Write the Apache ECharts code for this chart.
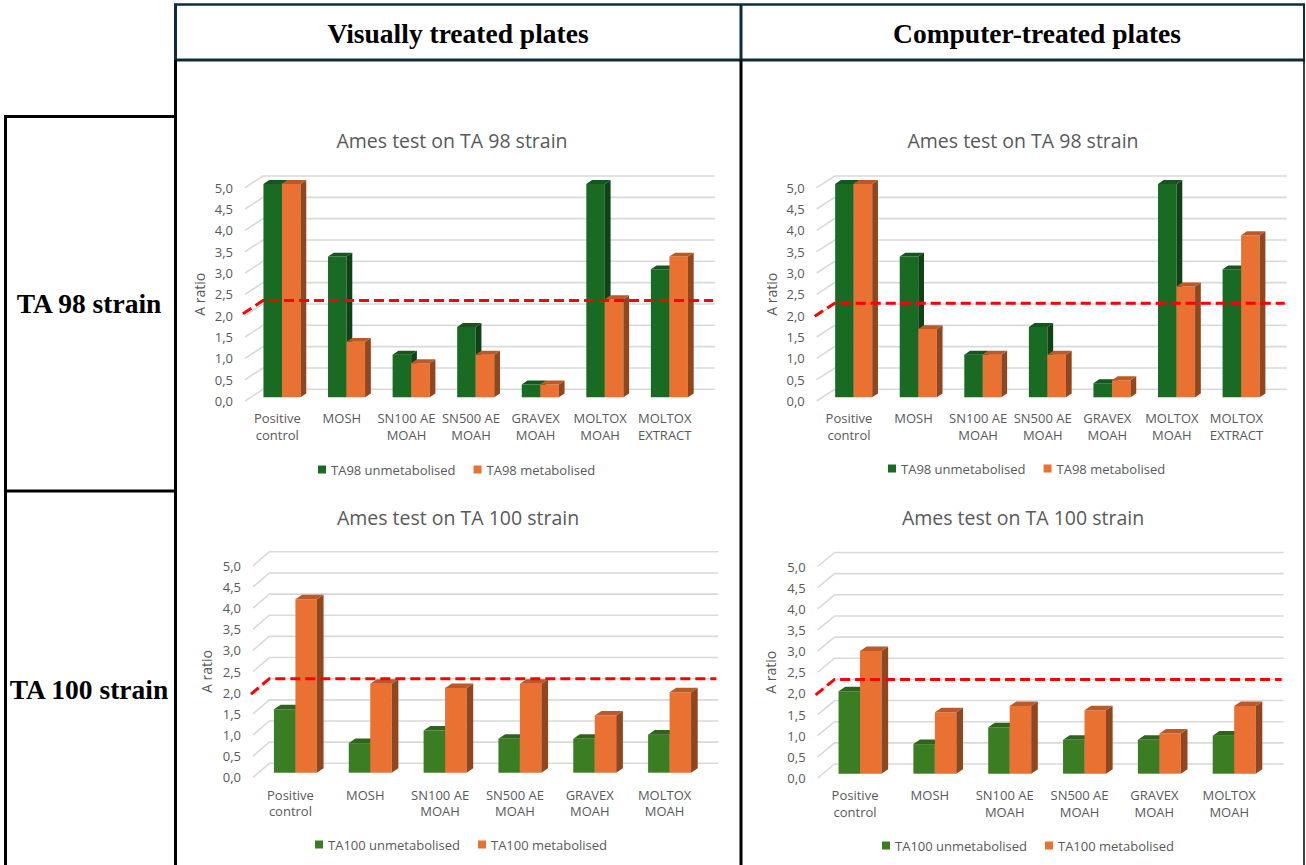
<!DOCTYPE html>
<html>
<head>
<meta charset="utf-8">
<title>Ames test – TA 98 and TA 100 strains</title>
<script src="https://cdn.jsdelivr.net/npm/echarts@6/dist/echarts.min.js"></script>
<style>
  html, body { margin: 0; padding: 0; background: #ffffff; }
  #chart { width: 1306px; height: 865px; }
</style>
</head>
<body>
<div id="chart"></div>
<script>
// ---- data ----
const categoriesTA98 = ['Positive\ncontrol', 'MOSH', 'SN100 AE\nMOAH', 'SN500 AE\nMOAH', 'GRAVEX\nMOAH', 'MOLTOX\nMOAH', 'MOLTOX\nEXTRACT'];
const categoriesTA100 = ['Positive\ncontrol', 'MOSH', 'SN100 AE\nMOAH', 'SN500 AE\nMOAH', 'GRAVEX\nMOAH', 'MOLTOX\nMOAH'];
const yTicks = [0, 0.5, 1.0, 1.5, 2.0, 2.5, 3.0, 3.5, 4.0, 4.5, 5.0];

const visualTA98Unmetabolised = [5.0, 3.3, 1.0, 1.65, 0.3, 5.0, 3.0];
const visualTA98Metabolised = [5.0, 1.3, 0.8, 1.0, 0.3, 2.3, 3.3];
const computerTA98Unmetabolised = [5.0, 3.3, 1.0, 1.65, 0.33, 5.0, 3.0];
const computerTA98Metabolised = [5.0, 1.6, 1.0, 1.0, 0.4, 2.6, 3.8];

const visualTA100Unmetabolised = [1.5, 0.7, 1.0, 0.8, 0.8, 0.9];
const visualTA100Metabolised = [4.1, 2.1, 2.0, 2.1, 1.35, 1.9];
const computerTA100Unmetabolised = [1.95, 0.7, 1.1, 0.8, 0.8, 0.9];
const computerTA100Metabolised = [2.9, 1.45, 1.6, 1.5, 0.95, 1.6];

// red dashed reference level drawn on each panel
const thresholdLevels = [2.08, 2.02, 2.0, 2.0];

// ---- styling ----
const GREEN_98 = '#196B24';
const GREEN_100 = '#3B7D23';
const ORANGE = '#E97132';
const TEXT_GREY = '#595959';
const GRID_GREY = '#d9d9d9';
const NAVY = '#0f2b3c';
const SANS = '"Open Sans", "Noto Sans", sans-serif';
const SERIF = '"Liberation Serif", "DejaVu Serif", serif';

function shade(hex, f) {
  const n = parseInt(hex.slice(1), 16);
  const r = Math.round(((n >> 16) & 255) * f);
  const g = Math.round(((n >> 8) & 255) * f);
  const b = Math.round((n & 255) * f);
  return 'rgb(' + r + ',' + g + ',' + b + ')';
}

// panel layout: grid = front plane of the 3D box, wall = offset of the back wall,
// barShift = offset of the plane the columns stand on
const panels = [
  {
    title: 'Ames test on TA 98 strain', titleX: 452, titleY: 140,
    categories: categoriesTA98,
    series: [
      { name: 'TA98 unmetabolised', data: visualTA98Unmetabolised, color: GREEN_98 },
      { name: 'TA98 metabolised', data: visualTA98Metabolised, color: ORANGE }
    ],
    grid: { left: 245, top: 187.7, width: 452, height: 213.3 },
    wall: [18, -11.7], barShift: [4.7, -3.7], nameGap: 39,
    legend: { left: 313, top: 458 }
  },
  {
    title: 'Ames test on TA 98 strain', titleX: 1023, titleY: 140,
    categories: categoriesTA98,
    series: [
      { name: 'TA98 unmetabolised', data: computerTA98Unmetabolised, color: GREEN_98 },
      { name: 'TA98 metabolised', data: computerTA98Metabolised, color: ORANGE }
    ],
    grid: { left: 816.7, top: 187.7, width: 452, height: 213.3 },
    wall: [18, -11.7], barShift: [4.7, -3.7], nameGap: 38,
    legend: { left: 883, top: 457 }
  },
  {
    title: 'Ames test on TA 100 strain', titleX: 458, titleY: 517,
    categories: categoriesTA100,
    series: [
      { name: 'TA100 unmetabolised', data: visualTA100Unmetabolised, color: GREEN_100 },
      { name: 'TA100 metabolised', data: visualTA100Metabolised, color: ORANGE }
    ],
    grid: { left: 253, top: 565.8, width: 449, height: 211.5 },
    wall: [16.3, -14], barShift: [5, -4.6], nameGap: 40,
    legend: { left: 310, top: 833 }
  },
  {
    title: 'Ames test on TA 100 strain', titleX: 1023, titleY: 517,
    categories: categoriesTA100,
    series: [
      { name: 'TA100 unmetabolised', data: computerTA100Unmetabolised, color: GREEN_100 },
      { name: 'TA100 metabolised', data: computerTA100Metabolised, color: ORANGE }
    ],
    grid: { left: 817.6, top: 566.5, width: 449, height: 211.5 },
    wall: [17, -14], barShift: [5, -4.3], nameGap: 40,
    legend: { left: 877, top: 834 }
  }
];

const BAR_RATIO = 0.287;

function wallRenderer(panel) {
  return function (params, api) {
    const cs = params.coordSys;
    const y = api.coord([0, api.value(1)])[1];
    const dx = panel.wall[0], dy = panel.wall[1];
    return {
      type: 'polyline',
      shape: { points: [[cs.x, y], [cs.x + dx, y + dy], [cs.x + cs.width + dx, y + dy]] },
      style: { stroke: GRID_GREY, lineWidth: 1.6, fill: null }
    };
  };
}

function thresholdRenderer(panel) {
  return function (params, api) {
    const cs = params.coordSys;
    const y = api.coord([0, api.value(1)])[1];
    const dx = panel.wall[0], dy = panel.wall[1];
    return {
      type: 'polyline',
      shape: { points: [[cs.x - 2, y + 1.5], [cs.x + dx, y + dy], [cs.x + cs.width + dx - 2, y + dy]] },
      style: { stroke: '#ff0000', lineWidth: 3, lineDash: [10, 5], fill: null }
    };
  };
}

function barRenderer(panel, idx, count, color) {
  const sideColor = shade(color, 0.62);
  const topColor = shade(color, 0.8);
  return function (params, api) {
    const cat = api.value(0);
    const base = api.coord([cat, 0]);
    const top = api.coord([cat, api.value(1)]);
    const band = api.size([1, 0])[0];
    const w = band * BAR_RATIO;
    const x0 = base[0] - (w * count) / 2 + w * idx + panel.barShift[0];
    const yb = base[1] + panel.barShift[1];
    const yt = top[1] + panel.barShift[1];
    const ddx = w * 0.31, ddy = -w * 0.21;
    return {
      type: 'group',
      children: [
        { type: 'rect', shape: { x: x0, y: yt, width: w, height: yb - yt }, style: { fill: color } },
        { type: 'polygon', shape: { points: [[x0 + w, yt], [x0 + w + ddx, yt + ddy], [x0 + w + ddx, yb + ddy], [x0 + w, yb]] }, style: { fill: sideColor } },
        { type: 'polygon', shape: { points: [[x0, yt], [x0 + ddx, yt + ddy], [x0 + w + ddx, yt + ddy], [x0 + w, yt]] }, style: { fill: topColor } }
      ]
    };
  };
}

const grids = [], xAxes = [], yAxes = [], series = [], legends = [], graphics = [];

panels.forEach(function (p, i) {
  grids.push(Object.assign({ containLabel: false }, p.grid));
  xAxes.push({
    type: 'category', gridIndex: i, data: p.categories,
    axisLine: { show: false }, axisTick: { show: false }, splitLine: { show: false },
    axisLabel: { color: TEXT_GREY, fontFamily: SANS, fontSize: 13, lineHeight: 16.5, margin: 9, interval: 0 }
  });
  yAxes.push({
    type: 'value', gridIndex: i, min: 0, max: 5, interval: 0.5,
    name: 'A ratio', nameLocation: 'middle', nameRotate: 90, nameGap: p.nameGap,
    nameTextStyle: { color: TEXT_GREY, fontFamily: SANS, fontSize: 14 },
    axisLine: { show: false }, axisTick: { show: false }, splitLine: { show: false },
    axisLabel: {
      color: TEXT_GREY, fontFamily: SANS, fontSize: 13, margin: 12,
      formatter: function (v) { return v.toFixed(1).replace('.', ','); }
    }
  });
  series.push({
    type: 'custom', name: 'walls-' + i, xAxisIndex: i, yAxisIndex: i, z: 1, silent: true,
    renderItem: wallRenderer(p),
    data: yTicks.map(function (v) { return [0, v]; })
  });
  p.series.forEach(function (s, k) {
    series.push({
      type: 'custom', name: s.name, xAxisIndex: i, yAxisIndex: i, z: 2,
      itemStyle: { color: s.color },
      renderItem: barRenderer(p, k, p.series.length, s.color),
      data: s.data.map(function (v, c) { return [c, v]; })
    });
  });
  series.push({
    type: 'custom', name: 'threshold-' + i, xAxisIndex: i, yAxisIndex: i, z: 3, silent: true,
    renderItem: thresholdRenderer(p),
    data: [[0, thresholdLevels[i]]]
  });
  legends.push({
    data: p.series.map(function (s) { return s.name; }),
    left: p.legend.left, top: p.legend.top, orient: 'horizontal',
    icon: 'rect', itemWidth: 8, itemHeight: 8, itemGap: 18,
    textStyle: { color: TEXT_GREY, fontFamily: SANS, fontSize: 13 },
    selectedMode: false
  });
  graphics.push({
    type: 'text', z: 50,
    style: { text: p.title, x: p.titleX, y: p.titleY, align: 'center', verticalAlign: 'middle',
      fill: TEXT_GREY, font: '19.5px ' + SANS }
  });
});

// table frame: column headers and row labels
function hline(x1, x2, y, color, w) {
  return { type: 'line', z: 100, shape: { x1: x1, y1: y, x2: x2, y2: y }, style: { stroke: color, lineWidth: w } };
}
function vline(x, y1, y2, color, w) {
  return { type: 'line', z: 100, shape: { x1: x, y1: y1, x2: x, y2: y2 }, style: { stroke: color, lineWidth: w } };
}
graphics.push(
  hline(174, 1305, 4.5, NAVY, 2.5),
  hline(174, 1305, 60, NAVY, 3),
  vline(175.5, 4, 60, NAVY, 3),
  vline(741, 4, 60, NAVY, 3),
  vline(1304, 4, 60, NAVY, 2),
  vline(175.5, 60, 865, '#000000', 3),
  vline(741, 60, 865, '#000000', 3),
  vline(1304, 60, 865, '#000000', 1.5),
  hline(4, 177, 116.5, '#000000', 3),
  hline(4, 177, 491, '#000000', 3),
  vline(5.5, 115, 865, '#000000', 3)
);
const headerFont = 'bold 27.5px ' + SERIF;
graphics.push(
  { type: 'text', z: 100, style: { text: 'Visually treated plates', x: 458, y: 33, align: 'center', verticalAlign: 'middle', fill: '#000', font: headerFont } },
  { type: 'text', z: 100, style: { text: 'Computer-treated plates', x: 1037, y: 33, align: 'center', verticalAlign: 'middle', fill: '#000', font: headerFont } },
  { type: 'text', z: 100, style: { text: 'TA 98 strain', x: 89, y: 303, align: 'center', verticalAlign: 'middle', fill: '#000', font: headerFont } },
  { type: 'text', z: 100, style: { text: 'TA 100 strain', x: 89, y: 689, align: 'center', verticalAlign: 'middle', fill: '#000', font: headerFont } }
);

const chart = echarts.init(document.getElementById('chart'), null, { renderer: 'svg' });
chart.setOption({
  animation: false,
  backgroundColor: '#ffffff',
  grid: grids,
  xAxis: xAxes,
  yAxis: yAxes,
  legend: legends,
  series: series,
  graphic: { elements: graphics }
});
</script>
</body>
</html>
